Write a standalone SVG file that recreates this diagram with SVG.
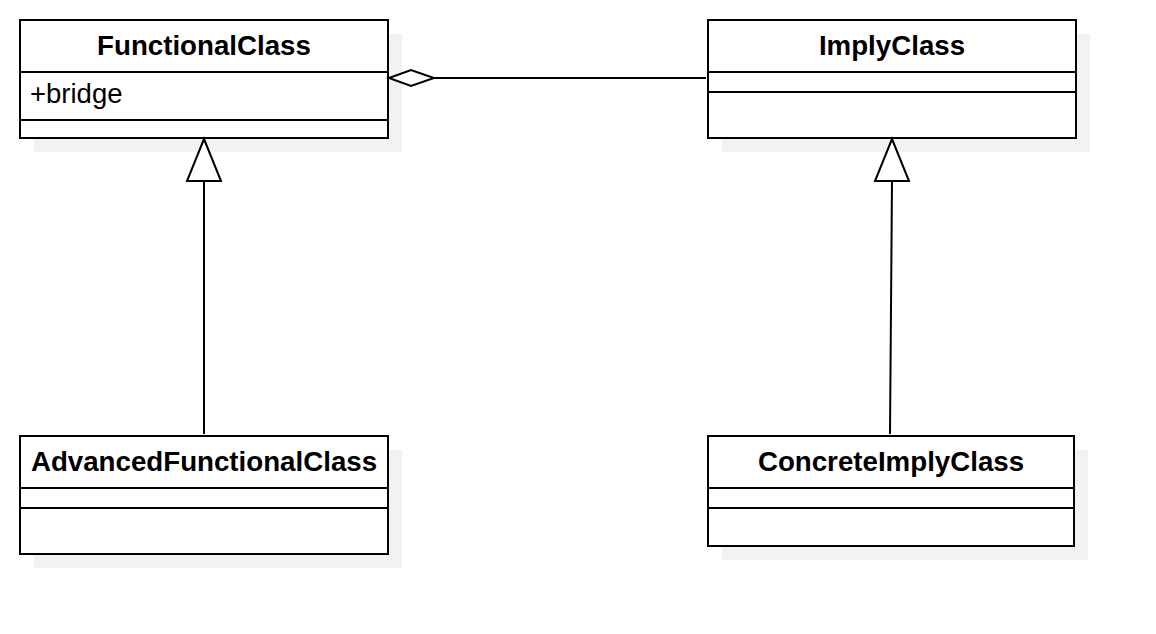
<svg xmlns="http://www.w3.org/2000/svg" width="1156" height="634" viewBox="0 0 1156 634">
<style>
.shadow{fill:#f2f2f2;stroke:none}
.box{fill:#ffffff;stroke:#000000;stroke-width:2}
.div{stroke:#000000;stroke-width:2;fill:none}
.title{font-family:"Liberation Sans",Arial,sans-serif;font-weight:bold;font-size:27.7px;text-anchor:middle;fill:#000}
.attr{font-family:"Liberation Sans",Arial,sans-serif;font-size:27.5px;fill:#000}
.edge{stroke:#000;stroke-width:2;fill:none}
.head{stroke:#000;stroke-width:2;fill:#fff}
</style>
<rect width="1156" height="634" fill="#ffffff"/>
<g id="FunctionalClass">
<rect class="shadow" x="34" y="34" width="368" height="118"/>
<rect class="box" x="20" y="20" width="368" height="118"/>
<line class="div" x1="20" y1="72" x2="388" y2="72"/>
<line class="div" x1="20" y1="120" x2="388" y2="120"/>
<text class="title" x="204" y="54.5">FunctionalClass</text>
<text class="attr" x="30" y="103">+bridge</text>
</g>
<g id="ImplyClass">
<rect class="shadow" x="722" y="34" width="368" height="118"/>
<rect class="box" x="708" y="20" width="368" height="118"/>
<line class="div" x1="708" y1="72" x2="1076" y2="72"/>
<line class="div" x1="708" y1="92" x2="1076" y2="92"/>
<text class="title" x="892" y="54.5">ImplyClass</text>
</g>
<g id="AdvancedFunctionalClass">
<rect class="shadow" x="34" y="450" width="368" height="118"/>
<rect class="box" x="20" y="436" width="368" height="118"/>
<line class="div" x1="20" y1="488" x2="388" y2="488"/>
<line class="div" x1="20" y1="508" x2="388" y2="508"/>
<text class="title" x="204" y="470.5">AdvancedFunctionalClass</text>
</g>
<g id="ConcreteImplyClass">
<rect class="shadow" x="722" y="450" width="366" height="110"/>
<rect class="box" x="708" y="436" width="366" height="110"/>
<line class="div" x1="708" y1="488" x2="1074" y2="488"/>
<line class="div" x1="708" y1="508" x2="1074" y2="508"/>
<text class="title" x="891" y="470.5">ConcreteImplyClass</text>
</g>
<g id="connectors">
<line class="edge" x1="434" y1="78" x2="706" y2="78"/>
<polygon class="head" points="389,78 411,70 434,78 411,86"/>
<line class="edge" x1="204" y1="181" x2="204" y2="434"/>
<polygon class="head" points="204,139 221,181 187,181"/>
<line class="edge" x1="892" y1="181" x2="890" y2="434"/>
<polygon class="head" points="892,139 909,181 875,181"/>
</g>
</svg>
